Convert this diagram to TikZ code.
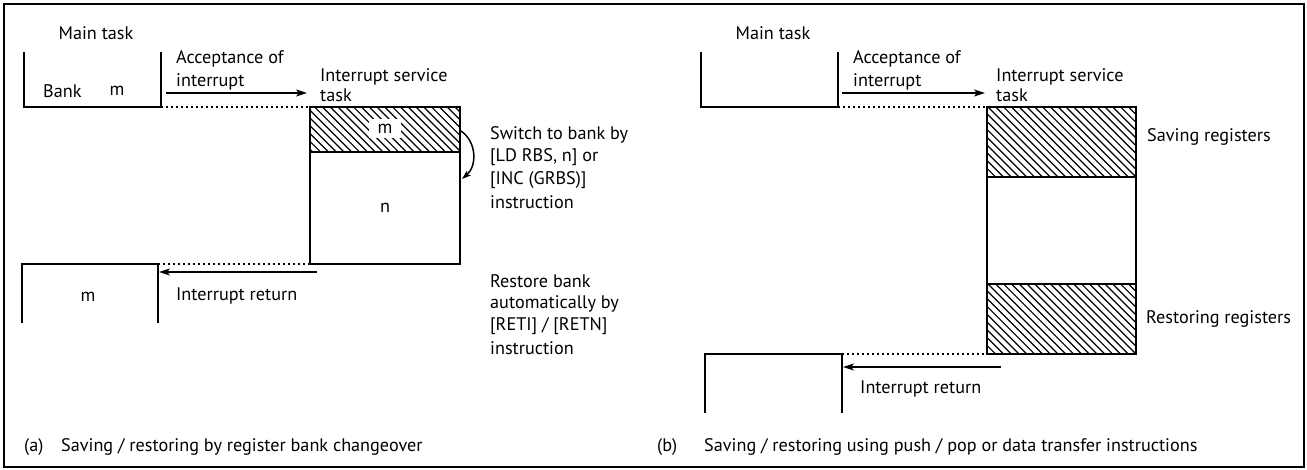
\documentclass[tikz,border=0pt]{standalone}
\usepackage{fontspec}
\setmainfont{PT Sans}
\usetikzlibrary{arrows.meta}
\begin{document}
\begin{tikzpicture}[x=1pt,y=-1pt,
  txt/.style={inner sep=0pt,anchor=west,font=\fontsize{18.2}{20}\selectfont},
  ctxt/.style={inner sep=0pt,font=\fontsize{18.2}{20}\selectfont},
  boxline/.style={line width=1.9pt},
  dotline/.style={line width=1.6pt,dash pattern=on 1.6pt off 3.4pt},
  arr/.style={line width=1.9pt,-{Stealth[length=11pt,width=7pt,inset=3pt]}},
  hatch/.style={line width=1.2pt},
]
\useasboundingbox (0,0) rectangle (1307,470);
\draw[line width=2pt] (4,4) rectangle (1304,467);

% ---------------- (a) ----------------
\node[ctxt] (amain) at (96,33) {Main task};
\coordinate (a1) at (24,52); \coordinate (a2) at (24,107);
\coordinate (a3) at (161,107); \coordinate (a4) at (161,52);
\draw[boxline] (a1) -- (a2) -- (a3) -- (a4);
\node[txt] (abank) at (43,91) {Bank};
\node[ctxt] (abm) at (117,91) {m};
\node[txt] (aacc1) at (176,59) {Acceptance of};
\node[txt] (aacc2) at (176,82) {interrupt};
\coordinate (aarrs) at (166,93); \coordinate (aarre) at (307,93);
\draw[arr] (aarrs) -- (aarre);
\node[txt] (aisr1) at (320,77) {Interrupt service};
\node[txt] (aisr2) at (320,95) {task};
% ISR box
\coordinate (aiTL) at (310,107); \coordinate (aiTR) at (460,107);
\coordinate (aiML) at (310,152); \coordinate (aiMR) at (460,152);
\coordinate (aiBL) at (310,264); \coordinate (aiBR) at (460,264);
\begin{scope}
  \clip (aiTL) rectangle (aiMR);
  \foreach \i in {0,...,26} \draw[hatch] (260+\i*7.8,107) -- ++(50,50);
\end{scope}
\draw[dotline] (a3) -- (aiTL);
\node[ctxt,fill=white,minimum width=32pt,minimum height=19pt] (am) at (385,129) {m};
\draw[boxline] (aiTL) rectangle (aiBR);
\draw[boxline] (aiML) -- (aiMR);
\node[ctxt] (an) at (385,208) {n};
\coordinate (acs) at (461,131); \coordinate (ace) at (462,179);
\draw[line width=1.5pt,-{Stealth[length=9pt,width=6pt,inset=2pt]}] (acs) .. controls (477,142) and (477,166) .. (ace);
\node[txt] (asw1) at (490,135) {Switch to bank by};
\node[txt] (asw2) at (490,157.5) {[LD RBS, n] or};
\node[txt] (asw3) at (490,180) {[INC (GRBS)]};
\node[txt] (asw4) at (490,202.5) {instruction};
% return
\coordinate (ar1) at (22,323); \coordinate (ar2) at (22,264);
\coordinate (ar3) at (158,264); \coordinate (ar4) at (158,323);
\draw[boxline] (ar1) -- (ar2) -- (ar3) -- (ar4);
\draw[dotline] (ar3) -- (aiBL);
\node[ctxt] (arm) at (88,297) {m};
\coordinate (arets) at (317,272); \coordinate (arete) at (159,272);
\draw[arr] (arets) -- (arete);
\node[txt] (aret) at (176,296) {Interrupt return};
\node[txt] (ars1) at (490,281) {Restore bank};
\node[txt] (ars2) at (490,303.5) {automatically by};
\node[txt] (ars3) at (490,326) {[RETI] / [RETN]};
\node[txt] (ars4) at (490,348.5) {instruction};
\node[txt] (acap1) at (24,447) {(a)};
\node[txt] (acap2) at (61,447) {Saving / restoring by register bank changeover};

% ---------------- (b) ----------------
\node[ctxt] (bmain) at (773,33) {Main task};
\coordinate (b1) at (701,52); \coordinate (b2) at (701,107);
\coordinate (b3) at (838,107); \coordinate (b4) at (838,52);
\draw[boxline] (b1) -- (b2) -- (b3) -- (b4);
\node[txt] (bacc1) at (853,59) {Acceptance of};
\node[txt] (bacc2) at (853,82) {interrupt};
\coordinate (barrs) at (842,93); \coordinate (barre) at (985,93);
\draw[arr] (barrs) -- (barre);
\node[txt] (bisr1) at (996,77) {Interrupt service};
\node[txt] (bisr2) at (996,95) {task};
\coordinate (biTL) at (987,107); \coordinate (biTR) at (1136,107);
\coordinate (biM1L) at (987,177); \coordinate (biM1R) at (1136,177);
\coordinate (biM2L) at (987,284); \coordinate (biM2R) at (1136,284);
\coordinate (biBL) at (987,354); \coordinate (biBR) at (1136,354);
\begin{scope}
  \clip (biTL) rectangle (biM1R);
  \foreach \i in {0,...,30} \draw[hatch] (910+\i*7.8,107) -- ++(75,75);
\end{scope}
\begin{scope}
  \clip (biM2L) rectangle (biBR);
  \foreach \i in {0,...,30} \draw[hatch] (910+\i*7.8,284) -- ++(75,75);
\end{scope}
\draw[dotline] (b3) -- (biTL);
\draw[boxline] (biTL) rectangle (biBR);
\draw[boxline] (biM1L) -- (biM1R);
\draw[boxline] (biM2L) -- (biM2R);
\node[txt] (bsave) at (1147,137) {Saving registers};
\node[txt] (brest) at (1146,319) {Restoring registers};
\coordinate (br1) at (705,413); \coordinate (br2) at (705,354);
\coordinate (br3) at (842,354); \coordinate (br4) at (842,413);
\draw[boxline] (br1) -- (br2) -- (br3) -- (br4);
\draw[dotline] (br3) -- (biBL);
\coordinate (brets) at (1001,367); \coordinate (brete) at (843,367);
\draw[arr] (brets) -- (brete);
\node[txt] (bret) at (860,389) {Interrupt return};
\node[txt] (bcap1) at (657,447) {(b)};
\node[txt] (bcap2) at (704,447) {Saving / restoring using push / pop or data transfer instructions};
\end{tikzpicture}
\end{document}
